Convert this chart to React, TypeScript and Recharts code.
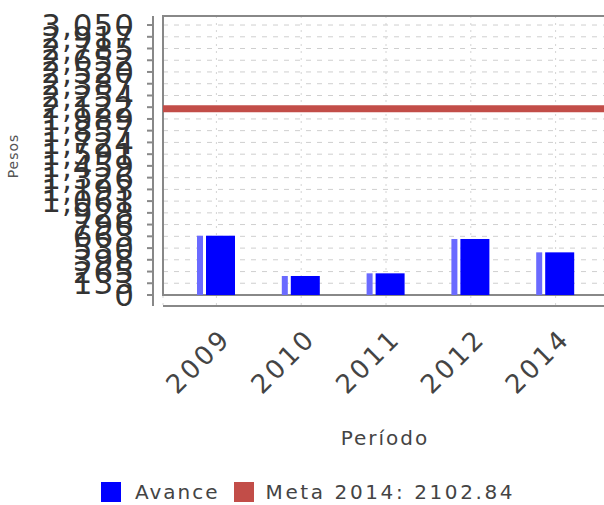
import { ComposedChart, Bar, XAxis, YAxis, CartesianGrid, ReferenceLine, ReferenceArea, Label } from 'recharts'

const periods = ['2009', '2010', '2011', '2012', '2014']
const avance = [670, 215, 245, 633, 482]
const meta2014 = 2102.84
const yTicks = [
  0, 133, 265, 398, 530, 663, 796, 928, 1061, 1193, 1326, 1459,
  1591, 1724, 1857, 1989, 2122, 2254, 2387, 2520, 2652, 2785, 2917, 3050,
]
const yDomain: [number, number] = [-124, 3152]

const rows = periods.map((p, i) => ({ period: p, avance: avance[i] }))

const FONT = 'DejaVu Sans'

function AvanceBar(props: any) {
  const { x, y, width, height } = props
  if (!height || height <= 0) return null
  return (
    <g>
      <rect x={x} y={y} width={6} height={height} fill="#6a6aff" />
      <rect x={x + 9} y={y} width={width - 9} height={height} fill="#0000ff" />
    </g>
  )
}

function PeriodTick({ x, y, payload }: any) {
  const ax = x + 16
  const ay = y + 34
  return (
    <text
      x={ax}
      y={ay}
      transform={`rotate(-45 ${ax} ${ay})`}
      textAnchor="end"
      fontSize={26}
      letterSpacing={3}
      fill="#444"
      fontFamily={FONT}
    >
      {payload.value}
    </text>
  )
}

function PesosTick({ x, y, payload }: any) {
  return (
    <text x={x} y={y} dy="0.36em" textAnchor="end" fontSize={31} letterSpacing={1} fill="#333" fontFamily={FONT}>
      {Number(payload.value).toLocaleString('en-US')}
    </text>
  )
}

function PesosTitle({ viewBox }: any) {
  const cx = viewBox.x + 13
  const cy = viewBox.y + viewBox.height / 2 - 5
  return (
    <text x={cx} y={cy} transform={`rotate(-90 ${cx} ${cy})`} textAnchor="middle" dy="0.35em"
      fontSize={14} letterSpacing={1} fill="#555" fontFamily={FONT}>
      Pesos
    </text>
  )
}

function PeriodoTitle({ viewBox }: any) {
  return (
    <text x={viewBox.x + 222} y={viewBox.y + 139} textAnchor="middle"
      fontSize={20} letterSpacing={2} fill="#444" fontFamily={FONT}>
      Período
    </text>
  )
}

export default function App() {
  return (
    <div style={{ position: 'absolute', left: 0, top: 0, width: 604, height: 505, overflow: 'hidden', background: '#fff' }}>
      {/* left axis, drawn apart from the plot frame */}
      <div style={{ position: 'absolute', left: 0, top: 0 }}>
        <ComposedChart width={604} height={505} data={rows} margin={{ top: 16, left: 0, right: 0, bottom: 199 }}>
          <XAxis dataKey="period" hide />
          <YAxis
            width={153}
            domain={yDomain}
            ticks={yTicks}
            interval={0}
            allowDataOverflow
            axisLine={{ stroke: '#888', strokeWidth: 2 }}
            tickLine={{ stroke: '#888', strokeWidth: 2 }}
            tickSize={6}
            tickMargin={12}
            tick={<PesosTick />}
          >
            <Label content={<PesosTitle />} />
          </YAxis>
        </ComposedChart>
      </div>

      {/* plot */}
      <div style={{ position: 'absolute', left: 0, top: 0 }}>
        <ComposedChart width={620} height={505} data={rows} margin={{ top: 16, left: 163, right: 0, bottom: 99 }}>
          <CartesianGrid horizontal={false} stroke="#d4d4d4" strokeDasharray="2 5" />
          <CartesianGrid vertical={false} stroke="#cfcfcf" strokeDasharray="5 6" />
          <XAxis
            dataKey="period"
            height={100}
            padding={{ left: 11, right: 22 }}
            interval={0}
            axisLine={{ stroke: '#888', strokeWidth: 2 }}
            tickLine={false}
            tickSize={0}
            tickMargin={0}
            tick={<PeriodTick />}
          >
            <Label content={<PeriodoTitle />} />
          </XAxis>
          <XAxis xAxisId="frame" type="number" hide />
          <YAxis hide domain={yDomain} ticks={yTicks} interval={0} allowDataOverflow />
          <Bar dataKey="avance" barSize={38} shape={<AvanceBar />} isAnimationActive={false} />
          <ReferenceLine y={meta2014} stroke="#c24d48" strokeWidth={7} />
          <ReferenceArea xAxisId="frame" y1={0} y2={yDomain[1]} fill="none" stroke="#888" strokeWidth={2} />
        </ComposedChart>
      </div>

      <div style={{ position: 'absolute', left: 101, top: 481, display: 'flex', alignItems: 'center',
        fontFamily: FONT, fontSize: 20, lineHeight: '22px', color: '#444', letterSpacing: 2 }}>
        <span style={{ width: 20, height: 20, background: '#0000ff', display: 'inline-block' }} />
        <span style={{ marginLeft: 14 }}>Avance</span>
        <span style={{ width: 20, height: 20, background: '#c24d48', display: 'inline-block', marginLeft: 14 }} />
        <span style={{ marginLeft: 12, letterSpacing: 2.6 }}>Meta 2014: 2102.84</span>
      </div>
    </div>
  )
}
